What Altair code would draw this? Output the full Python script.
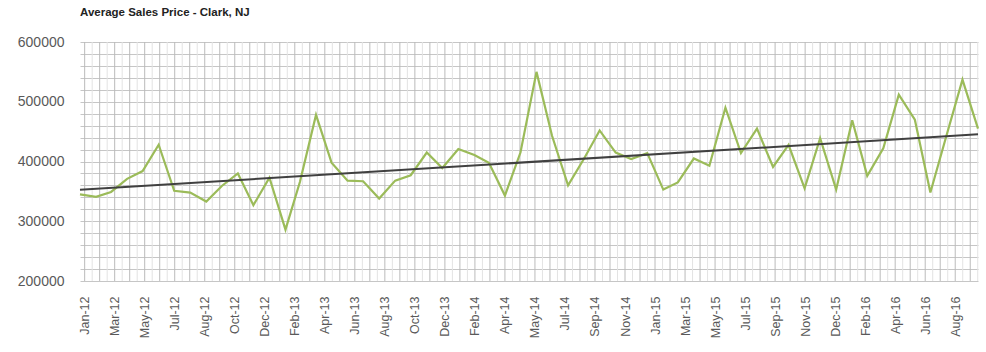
import altair as alt
import pandas as pd

title_text = "Average Sales Price - Clark, NJ"
start_month = "2012-01-01"
end_month = "2016-10-01"

# monthly average sales price, Jan 2012 .. Oct 2016
prices = [
    345000, 341000, 349000, 371000, 384000, 428000, 351000, 348000, 333000, 359000, 380000, 327000,
    373000, 286000, 366000, 478000, 398000, 368000, 367000, 338000, 368000, 377000, 415000, 389000,
    421000, 411000, 398000, 343000, 415000, 550000, 443000, 360000, 405000, 452000, 415000, 404000,
    414000, 353000, 365000, 405000, 393000, 490000, 414000, 455000, 391000, 428000, 355000, 439000,
    353000, 469000, 376000, 422000, 512000, 470000, 348000, 443000, 537000, 455000,
]

y_ticks = list(range(200000, 600001, 20000))
first_label_date = "2012-01-10"
label_step_days = 58
grid_step_days = 29
n_labels = 30

MS = 86400000
to_ms = lambda s: int(pd.Timestamp(s, tz="UTC").value // 10**6)

start_ms = to_ms(start_month)
end_ms = to_ms(end_month)
months = pd.date_range(start_month, end_month, freq="MS")
df = pd.DataFrame({"t": [to_ms(m) for m in months], "price": prices})

first_ms = to_ms(first_label_date)
label_ms = [first_ms + k * label_step_days * MS for k in range(n_labels)]
major_ms = [v for v in range(first_ms, end_ms + 1, grid_step_days * MS)]
minor_ms = [v + grid_step_days * MS // 2 for v in major_ms if v + grid_step_days * MS // 2 <= end_ms]

major_df = pd.DataFrame({"t": major_ms})
minor_df = pd.DataFrame({"t": minor_ms})

xscale = alt.Scale(type="utc", domain=[start_ms, end_ms], nice=False)
yscale = alt.Scale(domain=[200000, 600000], nice=False, zero=False)

label_font = "Liberation Sans Narrow, Arial Narrow, Liberation Sans, Arial"

x_axis = alt.Axis(
    values=label_ms, format="%b-%y", labelAngle=270, labelFont=label_font,
    labelFontSize=12.5, labelColor="#595959", labelPadding=15, ticks=False,
    domain=False, grid=False, title=None, labelOverlap=False,
)
y_axis = alt.Axis(
    values=y_ticks, format="d",
    labelExpr="datum.value % 100000 === 0 ? datum.label : ''",
    grid=True, gridColor="#c6c6c6", gridWidth=1, ticks=False, domain=False,
    labelFont="Liberation Sans, Arial", labelFontSize=14, labelColor="#595959",
    labelPadding=16, title=None,
)

x_enc = alt.X("t:T", scale=xscale, axis=x_axis)
y_enc = alt.Y("price:Q", scale=yscale, axis=y_axis)

minor = alt.Chart(minor_df).mark_rule(color="#e3e3e3", strokeWidth=1).encode(x=x_enc)
major = alt.Chart(major_df).mark_rule(color="#bbbbbb", strokeWidth=1).encode(x=x_enc)
line = alt.Chart(df).mark_line(color="#9BBB59", strokeWidth=2.2).encode(x=x_enc, y=y_enc)
trend = alt.Chart(df).transform_regression("t", "price").mark_line(
    color="#404040", strokeWidth=2
).encode(x=x_enc, y=y_enc)

chart = alt.layer(minor, major, line, trend).properties(
    width=898,
    height=239,
    title=alt.Title(title_text, anchor="start", frame="group", fontSize=11.5,
                    fontWeight="bold", font="Liberation Sans, Arial",
                    color="#222222", offset=17),
    autosize=alt.AutoSizeParams(type="none"),
    padding={"left": 80, "top": 42, "right": 8, "bottom": 71},
    background="white",
).configure_view(stroke=None)

chart.save("out.html", embed_options={"renderer": "svg", "actions": False})
